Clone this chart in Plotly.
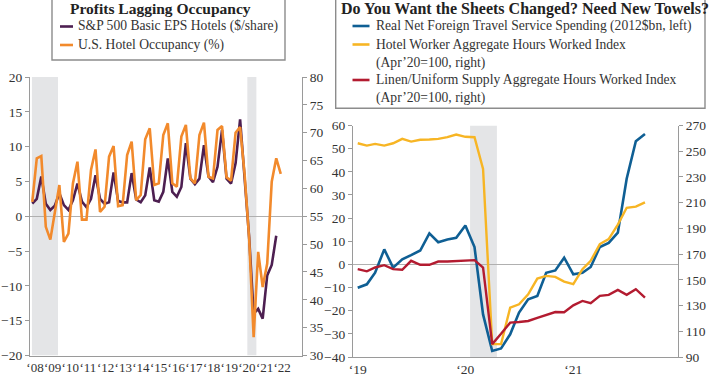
import numpy as np
import pandas as pd
import plotly.graph_objects as go

W, H = 720, 380

# ---------------- Left panel data (quarterly, 2008Q1 - 2021Q4) ----------------
quarters = pd.period_range("2008Q1", "2021Q4", freq="Q")
eps_hotels = [1.8, 2.5, 5.7, 1.8,
              0.9, 1.5, 3.3, 1.6,
              0.9, 2.3, 4.7, 2.1,
              1.3, 2.5, 5.9, 2.5,
              1.8, 2.0, 6.3, 2.2,
              2.0, 2.0, 6.2, 2.4,
              2.0, 3.0, 7.0, 2.3,
              2.1, 3.5, 8.3, 3.5,
              2.8, 4.2, 10.5, 5.4,
              4.6, 5.4, 10.2, 5.7,
              4.9, 7.1, 12.4, 5.4,
              4.7, 7.6, 13.9, 5.8,
              -3.0, -14.0, -13.3, -14.7,
              -8.5, -7.0, -2.8, None]
occupancy = [57.6, 65.4, 65.8, 53.1,
             50.8, 56.0, 60.6, 50.4,
             51.9, 60.9, 64.8, 54.4,
             54.4, 63.3, 67.0, 55.8,
             56.7, 65.7, 67.6, 56.8,
             57.0, 66.0, 68.4, 57.9,
             58.8, 68.8, 70.8, 60.6,
             60.9, 69.6, 71.7, 60.9,
             60.3, 69.3, 71.4, 61.8,
             60.9, 69.6, 71.8, 62.1,
             61.8, 70.5, 71.2, 62.0,
             61.4, 70.0, 71.0, 62.5,
             51.0, 33.3, 48.6, 42.3,
             46.5, 61.2, 65.4, 62.6]
left_year_labels = ["\u201808", "\u201809", "\u201810", "\u201811", "\u201812", "\u201813", "\u201814",
                    "\u201815", "\u201816", "\u201817", "\u201818", "\u201819", "\u201820", "\u201821", "\u201822"]
left_names = ["S&P 500 Basic EPS Hotels ($/share)", "U.S. Hotel Occupancy (%)"]
left_title = "Profits Lagging Occupancy"

# ---------------- Right panel data (monthly, Jan 2019 - Sep 2021) ----------------
months = pd.date_range("2019-01-01", "2021-09-01", freq="MS")
travel_spending = [-10.1, -8.6, -3.6, 6.5, -1.4, 2.2, 4.0, 6.0, 13.4, 9.6, 10.8, 11.5,
                   16.8, 7.5, -21.6, -37.4, -36.3, -30.2, -20.8, -15.1, -13.6, -3.6, -2.6, 2.9,
                   -4.3, -3.6, -1.1, 7.5, 9.3, 13.7, 37.0, 53.2, 56.3]
hotel_hours = [256.2, 254.4, 255.7, 254.4, 256.2, 259.6, 257.5, 258.9, 259.1, 259.6, 260.9, 263.0,
               261.2, 260.9, 236.2, 100.0, 100.0, 128.4, 131.0, 138.8, 151.0, 153.1, 152.3, 148.6,
               146.6, 158.3, 164.8, 177.8, 181.7, 193.0, 206.0, 206.9, 210.2]
linen_hours = [158.3, 156.6, 159.6, 161.4, 158.3, 157.8, 164.8, 161.7, 161.7, 164.2, 164.2, 164.5,
               165.3, 165.3, 159.6, 100.0, 108.0, 116.7, 117.2, 118.0, 120.5, 123.0, 125.0, 124.8,
               130.2, 133.6, 131.8, 137.5, 138.3, 142.2, 138.3, 142.7, 136.2]
right_year_ticks = ["2019-01-01", "2020-01-01", "2021-01-01"]
right_year_labels = ["\u201819", "\u201820", "\u201821"]
right_names = ["Real Net Foreign Travel Service Spending (2012$bn, left)",
               "Hotel Worker Aggregate Hours Worked Index<br>(Apr\u201920=100, right)",
               "Linen/Uniform Supply Aggregate Hours Worked Index<br>(Apr\u201920=100, right)"]
right_title = "Do You Want the Sheets Changed? Need New Towels?"

# ---------------- styles ----------------
PURPLE = "#4d1f51"
ORANGE = "#f28a2c"
BLUE = "#0f5f94"
YELLOW = "#f7b524"
RED = "#b31b30"
SHADE = "#e4e5e7"
AXIS = "#9a9a9a"
TXT = "#333333"
FONT = "Liberation Serif"


def px(x):
    return x / W


def py(y):
    return 1 - y / H


qx = np.array([q.year + (q.quarter - 1) / 4 for q in quarters])

fig = go.Figure()

fig.add_trace(go.Scatter(x=qx, y=eps_hotels, name=left_names[0], mode="lines",
                         line=dict(color=PURPLE, width=2.6), xaxis="x", yaxis="y",
                         showlegend=False, connectgaps=False))
fig.add_trace(go.Scatter(x=qx, y=occupancy, name=left_names[1], mode="lines",
                         line=dict(color=ORANGE, width=2.6), xaxis="x", yaxis="y2",
                         showlegend=False))
fig.add_trace(go.Scatter(x=months, y=hotel_hours, name=right_names[1], mode="lines",
                         line=dict(color=YELLOW, width=2.4), xaxis="x2", yaxis="y4",
                         showlegend=False))
fig.add_trace(go.Scatter(x=months, y=linen_hours, name=right_names[2], mode="lines",
                         line=dict(color=RED, width=2.4), xaxis="x2", yaxis="y4",
                         showlegend=False))
fig.add_trace(go.Scatter(x=months, y=travel_spending, name=right_names[0], mode="lines",
                         line=dict(color=BLUE, width=2.6), xaxis="x2", yaxis="y3",
                         showlegend=False))

tickfont = dict(family=FONT, size=13.5, color=TXT)
xtickfont = dict(family=FONT, size=13, color=TXT)

L_dom_x = [px(30), px(302)]
L_dom_y = [py(355.5), py(77)]
R_dom_x = [px(353), px(678)]
R_dom_y = [py(357), py(125.5)]

fig.update_layout(
    width=W, height=H, margin=dict(l=0, r=0, t=0, b=0, autoexpand=False),
    paper_bgcolor="white", plot_bgcolor="rgba(0,0,0,0)",
    xaxis=dict(domain=L_dom_x, range=[2007.875, 2022.925], anchor="y",
               tickmode="array", tickvals=list(np.linspace(2008.15, 2021.83, 15)),
               ticktext=left_year_labels, tickangle=0, showgrid=False, zeroline=False,
               showline=True, linecolor=AXIS, linewidth=1.3, ticks="", tickfont=xtickfont),
    yaxis=dict(domain=L_dom_y, range=[-20, 20], anchor="x", dtick=5,
               showgrid=False, zeroline=True, zerolinecolor="#b0b0b0", zerolinewidth=1.3,
               showline=True, linecolor=AXIS, linewidth=1.3, ticks="outside", ticklen=4,
               tickcolor=AXIS, tickfont=tickfont, tickformat="d"),
    yaxis2=dict(domain=L_dom_y, range=[30, 80], anchor="x", overlaying="y", side="right",
                dtick=5, showgrid=False, zeroline=False, showline=True, linecolor=AXIS,
                linewidth=1.3, ticks="outside", ticklen=4, tickcolor=AXIS, tickfont=tickfont),
    xaxis2=dict(domain=R_dom_x, range=["2018-12-16", "2021-12-22"], anchor="y3",
                tickmode="array", tickvals=right_year_ticks, ticktext=right_year_labels,
                tickangle=0, showgrid=False, zeroline=False, showline=True, linecolor=AXIS,
                linewidth=1.3, ticks="", tickfont=tickfont),
    yaxis3=dict(domain=R_dom_y, range=[-40, 60], anchor="x2", dtick=10,
                showgrid=False, zeroline=True, zerolinecolor="#b0b0b0", zerolinewidth=1.3,
                showline=True, linecolor=AXIS, linewidth=1.3, ticks="outside", ticklen=4,
                tickcolor=AXIS, tickfont=tickfont),
    yaxis4=dict(domain=R_dom_y, range=[90, 270], anchor="x2", overlaying="y3", side="right",
                dtick=20, tick0=90, showgrid=False, zeroline=False, showline=True,
                linecolor=AXIS, linewidth=1.3, ticks="outside", ticklen=4, tickcolor=AXIS,
                tickfont=tickfont),
)

shapes = []
for x0, x1 in [(2007.98, 2009.425), (2019.9, 2020.4)]:
    shapes.append(dict(type="rect", xref="x", yref="y", x0=x0, x1=x1, y0=-20, y1=20,
                       fillcolor=SHADE, line=dict(width=0), layer="below"))
shapes.append(dict(type="rect", xref="x2", yref="y3", x0="2020-01-17", x1="2020-04-17",
                   y0=-40, y1=60, fillcolor=SHADE, line=dict(width=0), layer="below"))

shapes.append(dict(type="rect", xref="paper", yref="paper", x0=px(52), x1=px(285),
                   y0=py(60), y1=py(-6), line=dict(color="#8c8c8c", width=1.4),
                   fillcolor="rgba(0,0,0,0)"))
shapes.append(dict(type="rect", xref="paper", yref="paper", x0=px(335.7), x1=px(705),
                   y0=py(108.3), y1=py(-6), line=dict(color="#8c8c8c", width=1.4),
                   fillcolor="rgba(0,0,0,0)"))

annotations = []
legfont = dict(family=FONT, size=13.6, color=TXT)

annotations.append(dict(text="<b>%s</b>" % left_title, x=px(160), y=py(8.5), xref="paper", yref="paper",
                        xanchor="center", yanchor="middle", showarrow=False,
                        font=dict(family=FONT, size=15.5, color="#222222")))
annotations.append(dict(text="<b>%s</b>" % right_title, x=px(525), y=py(8.5), xref="paper", yref="paper",
                        xanchor="center", yanchor="middle", showarrow=False,
                        font=dict(family=FONT, size=16, color="#222222")))

left_leg = [(left_names[0], PURPLE, 26.5), (left_names[1], ORANGE, 45)]
for name, col, yy in left_leg:
    shapes.append(dict(type="line", xref="paper", yref="paper", x0=px(60), x1=px(73),
                       y0=py(yy), y1=py(yy), line=dict(color=col, width=2.6)))
    annotations.append(dict(text=name, x=px(76), y=py(yy), xref="paper", yref="paper",
                            xanchor="left", yanchor="middle", showarrow=False, font=legfont))

right_leg = [(right_names[0], BLUE, 26, 26), (right_names[1], YELLOW, 44.5, 53.5),
             (right_names[2], RED, 80, 88.5)]
for name, col, yline, ytext in right_leg:
    shapes.append(dict(type="line", xref="paper", yref="paper", x0=px(352.5), x1=px(369.5),
                       y0=py(yline), y1=py(yline), line=dict(color=col, width=2.6)))
    annotations.append(dict(text=name, x=px(373.5), y=py(ytext), xref="paper", yref="paper",
                            xanchor="left", yanchor="middle", align="left", showarrow=False,
                            font=legfont))

fig.update_layout(shapes=shapes, annotations=annotations)

fig.write_html("out.html", config={"displayModeBar": False},
               post_script="document.body.style.margin='0px';document.body.style.padding='0px';"
                           "document.documentElement.style.overflow='hidden';")
